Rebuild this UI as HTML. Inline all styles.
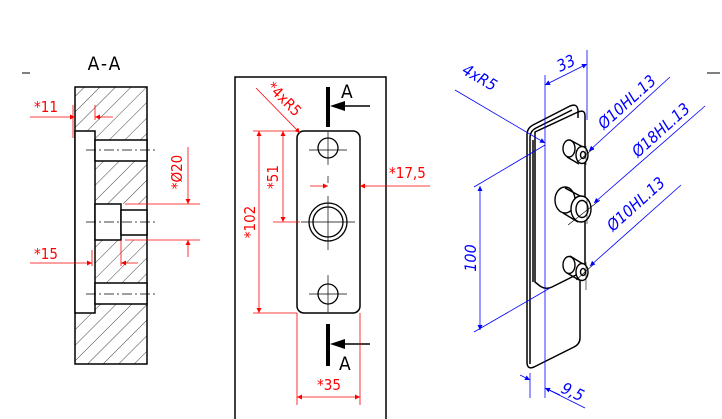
<!DOCTYPE html>
<html><head><meta charset="utf-8"><style>
html,body{margin:0;padding:0;background:#fff;}
svg{display:block;}
text{font-family:"DejaVu Sans Condensed","Liberation Sans",sans-serif;}
</style></head><body>
<svg width="722" height="419" viewBox="0 0 722 419" xmlns="http://www.w3.org/2000/svg">
<defs>
<pattern id="hat" patternUnits="userSpaceOnUse" width="11" height="11" patternTransform="rotate(45)">
<line x1="0" y1="0" x2="0" y2="11" stroke="#444" stroke-width="1"/>
</pattern>
<marker id="ar" viewBox="0 0 10 10" refX="10" refY="5" markerUnits="userSpaceOnUse" markerWidth="9" markerHeight="5" orient="auto-start-reverse"><path d="M0 0L10 5L0 10Z" fill="red"/></marker>
<marker id="ab" viewBox="0 0 10 10" refX="10" refY="5" markerUnits="userSpaceOnUse" markerWidth="9" markerHeight="5" orient="auto-start-reverse"><path d="M0 0L10 5L0 10Z" fill="blue"/></marker>
</defs>
<!-- left section -->
<text x="105" y="70" font-size="19" text-anchor="middle" letter-spacing="2">A-A</text>
<line x1="22" y1="73" x2="30" y2="73" stroke="#000"/>
<line x1="707" y1="73" x2="720" y2="73" stroke="#000"/>
<path d="M75 87H147V140H95V161H147V204H95V240H147V283H95V304H147V364H75V313H95V131H75Z" fill="url(#hat)" stroke="none"/>
<rect x="121" y="210" width="26" height="25" fill="#fff"/>
<g fill="none" stroke="#000" stroke-width="1.5">
<rect x="75" y="87" width="72" height="277"/>
<rect x="75" y="131" width="20" height="182" fill="#fff"/>
<rect x="95" y="140" width="52" height="21" fill="#fff"/>
<rect x="95" y="283" width="52" height="21" fill="#fff"/>
<rect x="95" y="204" width="26" height="36" fill="#fff"/>
<rect x="121" y="210" width="26" height="25" fill="#fff"/>
</g>
<g stroke="#000" stroke-width="0.8" stroke-dasharray="10,3,2,3">
<line x1="86" y1="150" x2="155" y2="150"/><line x1="86" y1="222" x2="155" y2="222"/><line x1="86" y1="294" x2="155" y2="294"/>
</g>
<g stroke="red" stroke-width="0.8" fill="none">
<line x1="30" y1="117" x2="75" y2="117" marker-end="url(#ar)"/>
<line x1="113" y1="117" x2="95" y2="117" marker-end="url(#ar)"/>
<line x1="73" y1="105" x2="73" y2="138"/><line x1="95" y1="105" x2="95" y2="120"/>
<line x1="188" y1="147" x2="188" y2="204" marker-end="url(#ar)"/>
<line x1="188" y1="257" x2="188" y2="240" marker-end="url(#ar)"/>
<line x1="125" y1="204" x2="200" y2="204"/><line x1="125" y1="240" x2="200" y2="240"/>
<line x1="30" y1="263" x2="92" y2="263" marker-end="url(#ar)"/>
<line x1="138" y1="263" x2="121" y2="263" marker-end="url(#ar)"/>
<line x1="92" y1="250" x2="92" y2="266"/><line x1="121" y1="240" x2="121" y2="266"/>
</g>
<g fill="red" font-size="15">
<text x="34" y="112">*11</text>
<text x="34" y="259">*15</text>
<text transform="translate(182,172) rotate(-90)" text-anchor="middle">*Ø20</text>
</g>
<!-- middle view -->
<g fill="none" stroke="#000">
<path d="M235 419V77H386V419" stroke-width="1.5"/>
<rect x="297" y="131" width="63" height="182" rx="7" stroke-width="1.5"/>
<circle cx="328" cy="148" r="10" stroke-width="1.3"/>
<circle cx="328" cy="222" r="19" stroke-width="1.3"/>
<circle cx="328" cy="222" r="15" stroke-width="1.3"/>
<circle cx="328" cy="294" r="10" stroke-width="1.3"/>
<g stroke-width="0.7"><line x1="309" y1="150" x2="347" y2="150"/><line x1="328" y1="132" x2="328" y2="165"/>
<line x1="301" y1="222" x2="355" y2="222"/><line x1="328" y1="196" x2="328" y2="250"/>
<line x1="309" y1="294" x2="347" y2="294"/><line x1="328" y1="275" x2="328" y2="312"/>
<line x1="328" y1="176" x2="328" y2="183"/></g>
<line x1="328" y1="87" x2="328" y2="127" stroke-width="4"/>
<line x1="328" y1="324" x2="328" y2="366" stroke-width="4"/>
<line x1="370" y1="106" x2="333" y2="106" stroke-width="1.5"/>
<line x1="370" y1="344" x2="333" y2="344" stroke-width="1.5"/>
</g>
<path d="M330 106L345 101L345 111Z"/><path d="M330 344L345 339L345 349Z"/>
<text x="341" y="98" font-size="19">A</text>
<text x="339" y="370" font-size="19">A</text>
<g stroke="red" stroke-width="0.8" fill="none">
<line x1="256" y1="88" x2="300" y2="133" marker-end="url(#ar)"/>
<line x1="259" y1="313" x2="259" y2="131" marker-end="url(#ar)" marker-start="url(#ar)"/>
<line x1="253" y1="131" x2="297" y2="131"/><line x1="253" y1="313" x2="297" y2="313"/>
<line x1="283" y1="222" x2="283" y2="131" marker-end="url(#ar)" marker-start="url(#ar)"/>
<line x1="273" y1="222" x2="300" y2="222"/>
<line x1="310" y1="186" x2="328" y2="186" marker-end="url(#ar)"/>
<line x1="430" y1="186" x2="360" y2="186" marker-end="url(#ar)"/>
<line x1="297" y1="397" x2="360" y2="397" marker-end="url(#ar)" marker-start="url(#ar)"/>
<line x1="297" y1="313" x2="297" y2="405"/><line x1="360" y1="313" x2="360" y2="405"/>
</g>
<g fill="red" font-size="15">
<text transform="translate(266,88) rotate(45)">*4xR5</text>
<text transform="translate(255,222) rotate(-90)" text-anchor="middle">*102</text>
<text transform="translate(278,177) rotate(-90)" text-anchor="middle">*51</text>
<text x="389" y="178">*17,5</text>
<text x="329" y="390" text-anchor="middle">*35</text>
</g>
<!-- isometric -->
<g fill="none" stroke="#000" stroke-width="1.5" stroke-linejoin="round">
<path d="M527 135Q527 128 533 125L570 106Q577 103 578 110L578 118"/>
<path d="M530 138Q530 131 536 128L572 110"/>
<path d="M527 135V362Q527 370 534 367L574 347Q580 344 580 338V280"/>
<path d="M530 138V364"/>
<path d="M533 140V282"/>
<path d="M535 132L578 112Q585 109 585 116V265Q585 270 580 273L552 287Q546 290 540 286L535 282Z"/>
</g>
<g fill="none" stroke="#000" stroke-width="1.4">
<path d="M570 140L583 147M567 157L579 164"/>
<ellipse cx="569" cy="148.5" rx="6" ry="8.5"/>
<ellipse cx="582" cy="155" rx="6" ry="8.5" fill="#fff"/><ellipse cx="583" cy="155" rx="2.5" ry="3.5"/>
<path d="M565 188L582 197M563 213L578 222"/>
<ellipse cx="565" cy="200" rx="10" ry="13"/>
<ellipse cx="581" cy="209" rx="10" ry="13" fill="#fff"/><ellipse cx="582" cy="209" rx="6" ry="8.5"/>
<path d="M570 256L583 264M567 273L579 280"/>
<ellipse cx="569" cy="265" rx="6" ry="8.5"/>
<ellipse cx="582" cy="272" rx="6" ry="8.5" fill="#fff"/><ellipse cx="583" cy="272" rx="2.5" ry="3.5"/>
</g>
<g stroke="#000" stroke-width="0.6">
<line x1="576" y1="163" x2="594" y2="148"/><line x1="586" y1="146" x2="586" y2="165"/>
<line x1="568" y1="225" x2="600" y2="200"/><line x1="587" y1="198" x2="587" y2="224"/>
<line x1="576" y1="280" x2="594" y2="264"/><line x1="586" y1="262" x2="586" y2="290"/>
</g>
<g stroke="blue" stroke-width="0.8" fill="none">
<line x1="545" y1="75" x2="545" y2="398"/><line x1="587" y1="50" x2="587" y2="120"/>
<line x1="545" y1="85" x2="587" y2="64" marker-end="url(#ab)" marker-start="url(#ab)"/>
<line x1="455" y1="90" x2="545" y2="143" marker-end="url(#ab)"/>
<line x1="480" y1="186" x2="480" y2="330" marker-end="url(#ab)" marker-start="url(#ab)"/>
<line x1="474" y1="187" x2="545" y2="145"/><line x1="474" y1="332" x2="550" y2="288"/>
<line x1="670" y1="77" x2="589" y2="151" marker-end="url(#ab)"/>
<line x1="705" y1="106" x2="594" y2="203" marker-end="url(#ab)"/>
<line x1="681" y1="185" x2="590" y2="266" marker-end="url(#ab)"/>
<line x1="520" y1="375" x2="530" y2="380" marker-end="url(#ab)"/>
<line x1="560" y1="395" x2="545" y2="388" marker-end="url(#ab)"/>
<line x1="545" y1="388" x2="585" y2="408"/>
<line x1="530" y1="373" x2="530" y2="398"/>
</g>
<g fill="blue" font-size="16" font-style="italic">
<text transform="translate(560,72) rotate(-25)">33</text>
<text transform="translate(461,73) rotate(30)">4xR5</text>
<text transform="translate(476,258) rotate(-90)" text-anchor="middle">100</text>
<text transform="translate(604,130) rotate(-42)">Ø10HL.13</text>
<text transform="translate(638,158) rotate(-42)">Ø18HL.13</text>
<text transform="translate(613,232) rotate(-42)">Ø10HL.13</text>
<text transform="translate(560,392) rotate(25)">9,5</text>
</g>
</svg>
</body></html>
